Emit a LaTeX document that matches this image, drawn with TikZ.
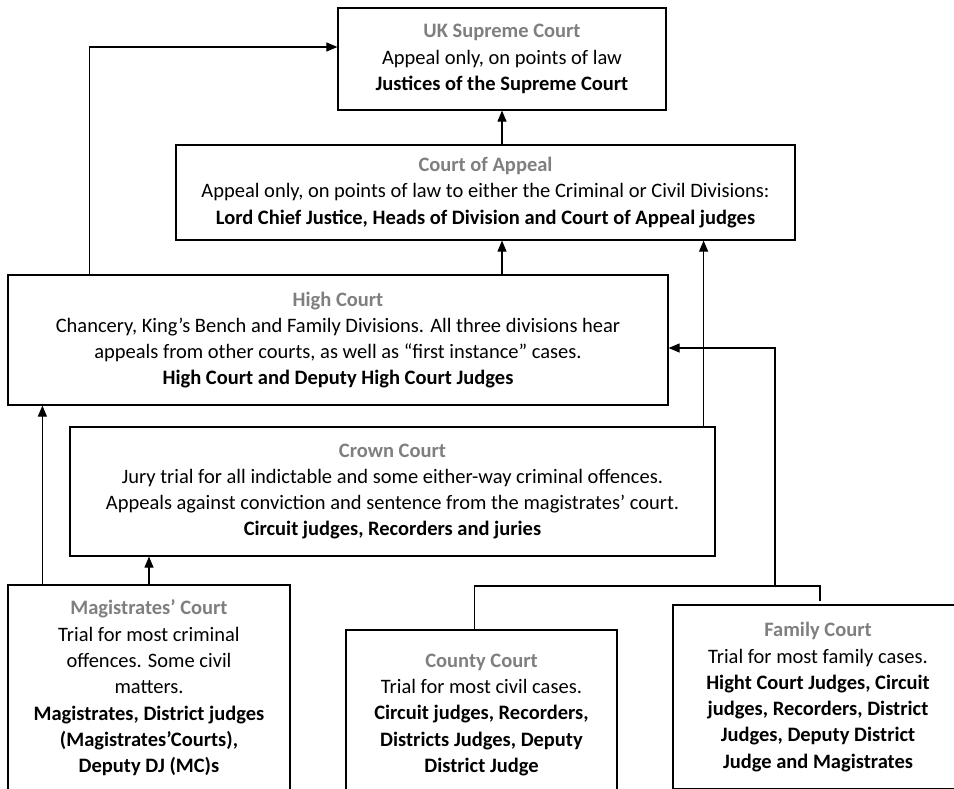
\documentclass[tikz,border=0pt]{standalone}
\usepackage{fontspec}
\setmainfont{Carlito}
\usetikzlibrary{arrows.meta}
\definecolor{titlegray}{RGB}{127,127,127}
\newcommand{\courttitle}[1]{\textcolor{titlegray}{\textbf{#1}}}
\begin{document}
\begin{tikzpicture}[x=1pt,y=-1pt,
        court/.style={draw,line width=1.2pt,align=center,inner sep=0pt,
            font=\fontsize{20.5}{26.3}\selectfont},
        link/.style={line width=1.1pt},
        arr/.style={line width=1.1pt,-{Triangle[length=11pt,width=9pt]}}]
                \useasboundingbox (0,0) rectangle (954,789);
                \clip (0,0) rectangle (954,789);
                \node[court,minimum width=328pt,minimum height=102pt] (sup) at (502,59)
                    {\courttitle{UK Supreme Court}\\Appeal only, on points of law\\\textbf{Justices of the Supreme Court}};
                \node[court,minimum width=619pt,minimum height=95pt] (coa) at (485.5,192.5)
                    {\courttitle{Court of Appeal}\\Appeal only, on points of law to either the Criminal or Civil Divisions:\\\textbf{Lord Chief Justice, Heads of Division and Court of Appeal judges}};
                \node[court,minimum width=660pt,minimum height=130pt] (high) at (338,340)
                    {\courttitle{High Court}\\Chancery, King’s Bench and Family Divisions. All three divisions hear\\appeals from other courts, as well as “first instance” cases.\\\textbf{High Court and Deputy High Court Judges}};
                \node[court,minimum width=645pt,minimum height=129pt] (crown) at (392.5,491.5)
                    {\courttitle{Crown Court}\\Jury trial for all indictable and some either-way criminal offences.\\Appeals against conviction and sentence from the magistrates’ court.\\\textbf{Circuit judges, Recorders and juries}};
                \node[court,minimum width=282pt,minimum height=206pt] (mag) at (149,688)
                    {\courttitle{Magistrates’ Court}\\Trial for most criminal\\offences. Some civil\\matters.\\\textbf{Magistrates, District judges}\\\textbf{(Magistrates’Courts),}\\\textbf{Deputy DJ (MC)s}};
                \node[court,minimum width=271pt,minimum height=170pt] (county) at (481.5,715)
                    {\courttitle{County Court}\\Trial for most civil cases.\\\textbf{Circuit judges, Recorders,}\\\textbf{Districts Judges, Deputy}\\\textbf{District Judge}};
                \node[court,minimum width=290pt,minimum height=184pt] (fam) at (818,697)
                    {\courttitle{Family Court}\\Trial for most family cases.\\\textbf{Hight Court Judges, Circuit}\\\textbf{judges, Recorders, District}\\\textbf{Judges, Deputy District}\\\textbf{Judge and Magistrates}};
                \coordinate (fork) at (775,586);
                \draw[arr] (sup.south |- coa.north) -- (sup.south);
                \draw[arr] (sup.south |- high.north) -- (sup.south |- coa.south);
                \draw[arr] ([xshift=82pt]high.north west) |- ([yshift=12pt]sup.west);
                \draw[arr] ([xshift=-12pt]crown.north east) -- ([xshift=-12pt]crown.north east |- coa.south);
                \draw[arr] ([xshift=35pt]mag.north west) -- ([xshift=35pt]mag.north west |- high.south);
                \draw[arr] (mag.north) -- (mag.north |- crown.south);
                \draw[link] ([xshift=-7pt]county.north) |- (fork) -| ([xshift=2pt,yshift=3pt]fam.north);
                \draw[arr] (fork) |- ([yshift=-8pt]high.east);
\end{tikzpicture}
\end{document}
